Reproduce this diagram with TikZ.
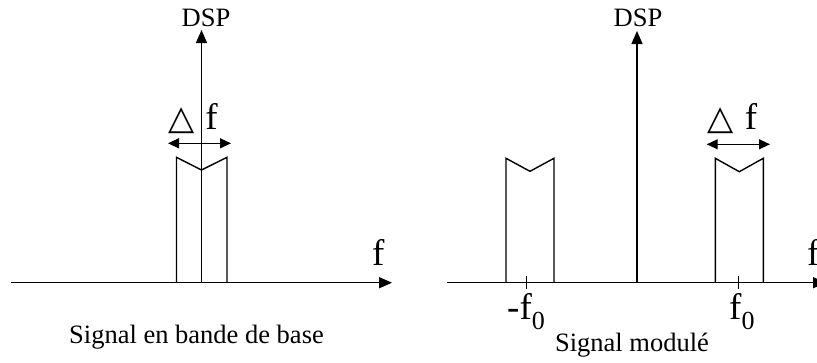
\documentclass[tikz,border=0pt]{standalone}
\usepackage{fontspec}
\setmainfont{Liberation Serif}
\newfontfamily\symfont{DejaVu Sans}
\usetikzlibrary{arrows.meta}
\newcommand{\tribig}{{\symfont\fontsize{34}{34}\selectfont △}}
\newcommand{\subzero}{\raisebox{-10pt}{\fontsize{26}{26}\selectfont 0}}
\begin{document}
\begin{tikzpicture}[x=1pt,y=-1pt,
  ln/.style={line width=1.4pt},
  axisarrow/.style={ln,-{Triangle[length=13pt,width=11pt]}},
  bwarrow/.style={ln,{Triangle[length=11pt,width=10pt]}-{Triangle[length=11pt,width=10pt]}},
  small/.style={font=\fontsize{26.5}{28}\selectfont,inner sep=0pt},
  big/.style={font=\fontsize{37}{38}\selectfont,inner sep=0pt}]
\useasboundingbox (0,0) rectangle (817,362);
% left panel
\coordinate (LO) at (201.5,282.7);
\coordinate (Lxs) at (11,282.7);
\coordinate (Lxe) at (392,282.7);
\coordinate (Lyt) at (201.5,30);
\draw[axisarrow] (Lxs) -- (Lxe);
\draw[axisarrow] (LO) -- (Lyt);
\coordinate (La) at (176.5,282.7);
\coordinate (Lb) at (227,282.7);
\draw[ln] (La) -- (176.5,157.3) -- (201.5,170) -- (227,157.3) -- (Lb);
\coordinate (Ld1) at (168,143.3);
\coordinate (Ld2) at (231,143.3);
\draw[bwarrow] (Ld1) -- (Ld2);
\node[small,anchor=base] (Ldsp) at (206,26) {DSP};
\node[big,anchor=base west] (Ldf) at (168,129) {\tribig\kern 11pt f};
\node[big,anchor=base west] (Lf) at (372,265) {f};
\node[small,anchor=base] (Ltitle) at (196.5,343.3) {Signal en bande de base};
% right panel
\coordinate (RO) at (637,282.7);
\coordinate (Rxs) at (446.7,282.7);
\coordinate (Rxe) at (826,282.7);
\coordinate (Ryt) at (637,31);
\draw[axisarrow] (Rxs) -- (Rxe);
\draw[axisarrow] (RO) -- (Ryt);
\coordinate (Ra1) at (506,282.7);
\coordinate (Ra2) at (554,282.7);
\draw[ln] (Ra1) -- (506,158.3) -- (530,171.3) -- (554,158.3) -- (Ra2);
\coordinate (Rb1) at (715.3,282.7);
\coordinate (Rb2) at (763.3,282.7);
\draw[ln] (Rb1) -- (715.3,158.3) -- (739.3,171.7) -- (763.3,158.3) -- (Rb2);
\coordinate (Rt1a) at (526.7,276);
\coordinate (Rt1b) at (526.7,288.5);
\draw[ln] (Rt1a) -- (Rt1b);
\coordinate (Rt2a) at (738.3,276);
\coordinate (Rt2b) at (738.3,288.5);
\draw[ln] (Rt2a) -- (Rt2b);
\coordinate (Rd1) at (706.7,144.3);
\coordinate (Rd2) at (770,144.3);
\draw[bwarrow] (Rd1) -- (Rd2);
\node[small,anchor=base] (Rdsp) at (638,26) {DSP};
\node[big,anchor=base west] (Rdf) at (707.5,129) {\tribig\kern 11pt f};
\node[big,anchor=base west] (Rf) at (807,265) {f};
\node[big,anchor=base west] (Rm) at (507,319) {-f\subzero};
\node[big,anchor=base west] (Rp) at (729,319) {f\subzero};
\node[small,anchor=base] (Rtitle) at (632,351.7) {Signal modulé};
\end{tikzpicture}
\end{document}
